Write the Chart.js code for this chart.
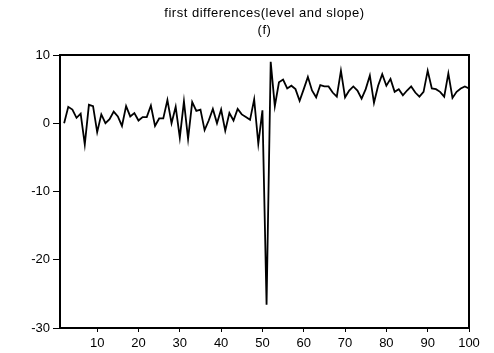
<!DOCTYPE html>
<html>
<head>
<meta charset="utf-8">
<script src="https://cdn.jsdelivr.net/npm/chart.js@4/dist/chart.umd.min.js"></script>
<style>
  html, body { margin: 0; padding: 0; background: #fff; }
  #wrap { width: 494px; height: 353px; }
</style>
</head>
<body>
<div id="wrap"><canvas id="diffChart"></canvas></div>
<script>
// observations 2..100 (first differences lose the first one)
const obs = [];
for (let i = 2; i <= 100; i++) obs.push(i);

const diffs = [
  0.0, 2.4, 2.0, 0.8, 1.4, -3.1, 2.7, 2.5, -1.3, 1.3,
  0.0, 0.6, 1.7, 1.0, -0.4, 2.5, 1.0, 1.5, 0.4, 0.9,
  0.9, 2.6, -0.4, 0.7, 0.7, 3.4, 0.0, 2.4, -2.1, 3.2,
  -2.3, 3.1, 1.8, 2.0, -1.0, 0.4, 2.1, 0.0, 2.0, -1.1,
  1.5, 0.4, 2.1, 1.3, 0.9, 0.5, 3.5, -3.0, 1.9, -26.6,
  9.0, 2.5, 6.0, 6.4, 5.1, 5.5, 5.0, 3.3, 5.0, 6.8,
  4.8, 3.8, 5.6, 5.4, 5.4, 4.5, 3.9, 7.7, 3.8, 4.8,
  5.4, 4.8, 3.6, 5.0, 7.0, 3.0, 5.5, 7.2, 5.5, 6.5,
  4.6, 5.0, 4.1, 4.8, 5.4, 4.5, 3.9, 4.6, 7.7, 5.1,
  5.0, 4.6, 3.9, 7.3, 3.7, 4.6, 5.1, 5.4, 5.1
];

const titleLines = ["first differences(level and slope)", "(f)"];
const yTicks = [-30, -20, -10, 0, 10];

const FONT = "'Liberation Sans', Arial, sans-serif";

// title centred over the plot area, plus the box around it
const framePlugin = {
  id: "frame",
  afterDraw(chart) {
    const { ctx, chartArea: a } = chart;
    ctx.save();
    ctx.strokeStyle = "#000";
    ctx.lineWidth = 2;
    ctx.strokeRect(a.left, a.top, a.right - a.left, a.bottom - a.top);
    ctx.fillStyle = "#000";
    ctx.font = "13px " + FONT;
    if ("letterSpacing" in ctx) ctx.letterSpacing = "0.5px";
    ctx.textAlign = "center";
    ctx.textBaseline = "middle";
    const cx = (a.left + a.right) / 2;
    ctx.fillText(titleLines[0], cx, 13);
    ctx.fillText(titleLines[1], cx, 30);
    ctx.restore();
  },
};

const ctx = document.getElementById("diffChart").getContext("2d");
new Chart(ctx, {
  type: "line",
  data: {
    datasets: [
      {
        data: obs.map((x, i) => ({ x: x, y: diffs[i] })),
        borderColor: "#000",
        borderWidth: 1.8,
        pointRadius: 0,
        tension: 0,
        fill: false,
      },
    ],
  },
  options: {
    responsive: true,
    maintainAspectRatio: false,
    animation: false,
    layout: { padding: { top: 55, right: 25, left: 0, bottom: 0 } },
    plugins: { legend: { display: false }, tooltip: { enabled: false } },
    scales: {
      x: {
        type: "linear",
        min: 1,
        max: 100,
        afterBuildTicks(scale) {
          scale.ticks = scale.ticks.filter((t) => t.value % 10 === 0);
        },
        afterFit(scale) { scale.height = 25; },
        ticks: { stepSize: 10, color: "#000", font: { family: FONT, size: 13 }, padding: 4, maxRotation: 0 },
        grid: { drawOnChartArea: false, drawTicks: true, tickLength: 4, color: "#000" },
        border: { display: true, color: "#000", width: 2 },
      },
      y: {
        min: -30,
        max: 10,
        afterBuildTicks(scale) {
          scale.ticks = yTicks.map((v) => ({ value: v }));
        },
        afterFit(scale) { scale.width = 60; },
        ticks: { color: "#000", font: { family: FONT, size: 13 }, padding: 3 },
        grid: { drawOnChartArea: false, drawTicks: true, tickLength: 7, color: "#000" },
        border: { display: true, color: "#000", width: 2 },
      },
    },
  },
  plugins: [framePlugin],
});
</script>
</body>
</html>
